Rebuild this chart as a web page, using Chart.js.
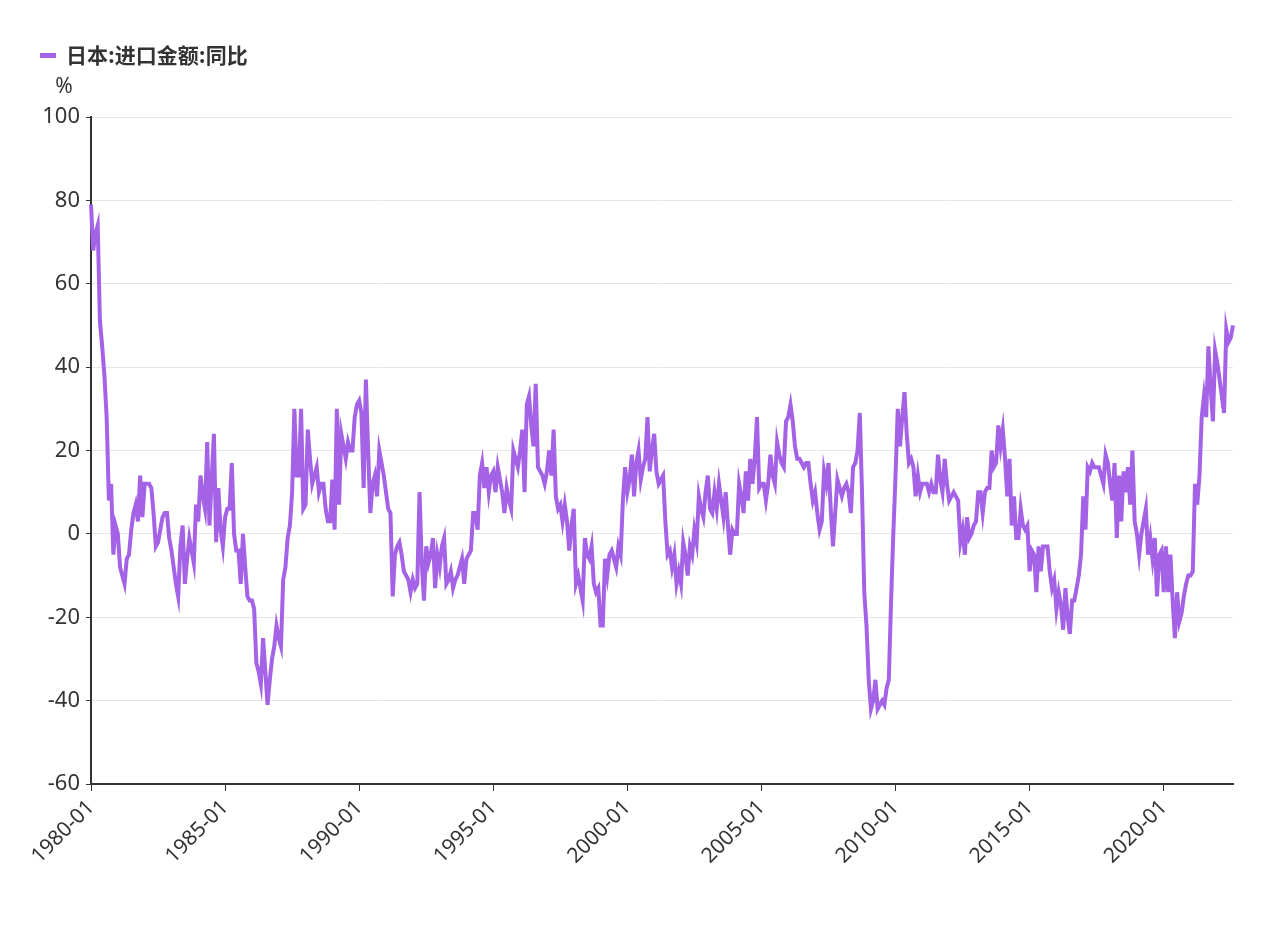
<!DOCTYPE html>
<html>
<head>
<meta charset="utf-8">
<script src="https://cdn.jsdelivr.net/npm/chart.js@4/dist/chart.umd.min.js"></script>
<style>
  html, body { margin: 0; padding: 0; background: #fff; }
  #wrap { width: 1265px; height: 949px; }
</style>
</head>
<body>
<div id="wrap"><canvas id="c"></canvas></div>
<script>
const seriesName = '日本:进口金额:同比';
const startYear = 1980;
// monthly values from 1980-01, one row per year
const y1980s = [
  79, 68, 72, 74, 51, 45, 38, 28, 8, 12, -5, 2,
  0, -8, -10, -12, -6, -5, 1, 5, 7, 3, 14, 4,
  12, 12, 12, 11, 5, -3, -2, 1, 4, 5, 5, -1,
  -4, -8, -12, -15, -3, 2, -12, -6, -1, -4, -7, 7,
  3, 14, 9, 6, 22, 2, 13, 24, -2, 11, 1, -3,
  4, 6, 6, 17, 0, -4, -4, -12, 0, -8, -15, -16,
  -16, -18, -31, -33, -36, -25, -33, -41, -35, -30, -27, -22,
  -25, -27, -11, -8, -1, 2, 10, 30, 14, 14, 30, 6,
  7, 25, 18, 12, 14, 16, 10, 12, 12, 6, 3, 3,
  13, 1, 30, 7, 24, 21, 18, 22, 20, 20, 28, 31
];
const y1990s = [
  32, 29, 11, 37, 20, 5, 12, 14, 9, 20, 17, 14,
  10, 6, 5, -15, -5, -3, -2, -5, -9, -10, -11, -14,
  -11, -13, -12, 10, -7, -16, -3, -7, -5, -1, -13, -5,
  -8, -3, -1, -12, -11, -9, -13, -11, -10, -8, -6, -12,
  -6, -5, -4, 5, 5, 1, 14, 17, 11, 16, 10, 14,
  15, 10, 16, 13, 10, 5, 11, 8, 6, 20, 18, 16,
  20, 25, 10, 31, 33, 26, 21, 36, 16, 15, 14, 12,
  15, 20, 14, 25, 9, 6, 7, 3, 7, 3, -4, 2,
  6, -12, -10, -13, -16, -1, -5, -6, -3, -12, -14, -13,
  -22, -22, -6, -10, -5, -4, -6, -8, -3, -5, 8, 16
];
const y2000s = [
  10, 13, 19, 9, 17, 20, 13, 16, 18, 28, 15, 20,
  24, 15, 12, 13, 14, 3, -5, -4, -8, -5, -12, -9,
  -12, -2, -5, -10, -3, -5, 1, -2, 9, 6, 4, 10,
  14, 6, 5, 10, 6, 12, 8, 4, 10, 2, -5, 1,
  0, 0, 12, 9, 5, 15, 8, 18, 12, 18, 28, 11,
  12, 12, 8, 12, 19, 14, 12, 22, 19, 17, 16, 27,
  28, 31, 27, 21, 18, 18, 17, 16, 17, 17, 12, 8,
  10, 5, 1, 3, 15, 12, 17, 6, -3, 5, 13, 11,
  9, 11, 12, 10, 5, 16, 17, 20, 29, 10, -14, -22,
  -35, -42, -40, -35, -42, -41, -40, -41, -37, -35, -16, 0
];
const y2010s = [
  14, 30, 21, 28, 34, 24, 17, 18, 16, 9, 14, 10,
  12, 12, 12, 10, 12, 10, 10, 19, 13, 10, 18, 12,
  8, 9, 10, 9, 8, -2, 1, -5, 4, -1, 0, 2,
  3, 10, 10, 5, 10, 11, 11, 20, 16, 17, 26, 21,
  25, 18, 9, 18, 2, 9, -1, -1, 6, 2, 1, 2,
  -9, -4, -5, -14, -3, -9, -3, -3, -3, -9, -13, -11,
  -18, -14, -17, -23, -13, -20, -24, -16, -16, -13, -10, -5,
  9, 1, 16, 15, 17, 16, 16, 16, 14, 12, 19, 17,
  12, 8, 17, -1, 14, 3, 15, 10, 16, 7, 20, 3,
  0, -5, 0, 3, 6, -5, -1, -6, -1, -15, -5, -4
];
const y2020s = [
  -14, -3, -14, -5, -16, -25, -14, -21, -19, -15, -12, -10,
  -10, -9, 12, 7, 14, 28, 33, 28, 45, 35, 27, 44,
  41, 37, 33, 29, 49, 46, 47, 50
];
const yTicks = [-60, -40, -20, 0, 20, 40, 60, 80, 100];

const values = [].concat(y1980s, y1990s, y2000s, y2010s, y2020s);
const months = values.map((v, i) => {
  const y = startYear + Math.floor(i / 12);
  const m = (i % 12) + 1;
  return y + '-' + (m < 10 ? '0' + m : m);
});

const textColor = '#333';
const purple = '#a463e6';

// legend and unit label drawn by hand
const headerPlugin = {
  id: 'header',
  afterDraw(chart) {
    const ctx = chart.ctx;
    ctx.save();
    ctx.fillStyle = purple;
    ctx.fillRect(40, 53, 16, 5);
    ctx.fillStyle = textColor;
    ctx.font = 'bold 21px "Noto Sans CJK SC", "Noto Sans", sans-serif';
    ctx.textBaseline = 'middle';
    ctx.fillText(seriesName, 66, 55);
    ctx.font = '21px "Noto Sans", sans-serif';
    ctx.textAlign = 'center';
    ctx.fillText('%', 64, 87);
    ctx.restore();
  }
};

new Chart(document.getElementById('c'), {
  type: 'line',
  data: {
    labels: months,
    datasets: [{
      label: seriesName,
      data: values,
      borderColor: purple,
      backgroundColor: purple,
      borderWidth: 4,
      pointRadius: 0,
      tension: 0,
      fill: false
    }]
  },
  options: {
    responsive: true,
    maintainAspectRatio: false,
    animation: false,
    layout: { padding: { left: 0, right: 32, top: 117, bottom: 0 } },
    plugins: {
      tooltip: { enabled: false },
      legend: { display: false }
    },
    scales: {
      x: {
        type: 'category',
        offset: false,
        afterBuildTicks(scale) {
          scale.ticks = scale.ticks.filter(t => t.value % 60 === 0);
        },
        afterFit(scale) { scale.height = 165; },
        ticks: {
          autoSkip: false,
          maxRotation: 45,
          minRotation: 45,
          color: textColor,
          padding: 4,
          font: { size: 21, family: '"Noto Sans", sans-serif' },
          callback(v) { return months[v]; }
        },
        grid: { drawOnChartArea: false, color: '#333', tickLength: 7 },
        border: { color: '#333', width: 2 }
      },
      y: {
        min: -60,
        max: 100,
        afterBuildTicks(scale) {
          scale.ticks = yTicks.map(v => ({ value: v }));
        },
        afterFit(scale) { scale.width = 91; },
        ticks: {
          color: textColor,
          padding: 6,
          font: { size: 22, family: '"Noto Sans", sans-serif' }
        },
        grid: { color: '#e6e6e6', tickLength: 5, tickColor: '#333' },
        border: { color: '#333', width: 2 }
      }
    }
  },
  plugins: [headerPlugin]
});
</script>
</body>
</html>
